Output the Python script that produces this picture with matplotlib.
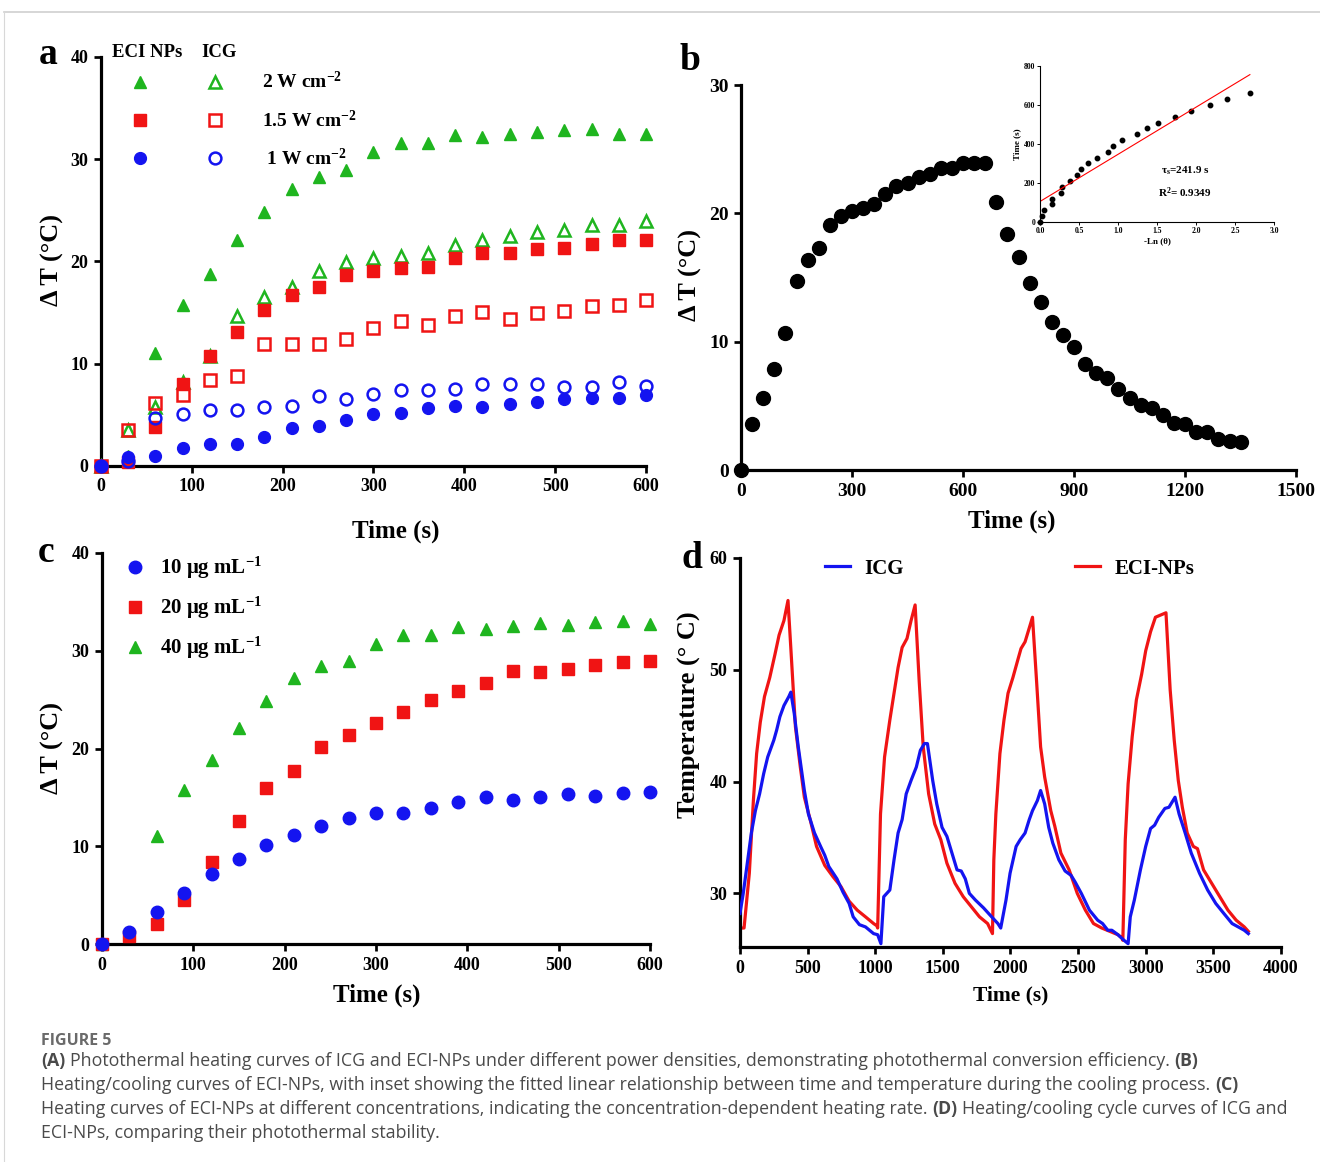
import numpy as np
import matplotlib
matplotlib.use("Agg")
import matplotlib.pyplot as plt
from matplotlib.lines import Line2D
from matplotlib.legend_handler import HandlerTuple
from matplotlib import font_manager

# ----------------------------------------
# DATA
# ----------------------------------------
time_a = [0, 30, 60, 90, 120, 150, 180, 210, 240, 270, 300, 330, 360,
          390, 420, 450, 480, 510, 540, 570, 600]

eci_2w = [0, 1.0, 11.0, 15.7, 18.8, 22.1, 24.8, 27.1, 28.3, 28.9, 30.7, 31.6, 31.6,
          32.4, 32.2, 32.5, 32.7, 32.9, 33.0, 32.5, 32.5]
icg_2w = [0, 3.5, 5.8, 8.2, 10.8, 14.7, 16.5, 17.5, 19.1, 19.9, 20.3, 20.5, 20.8,
          21.6, 22.1, 22.5, 22.9, 23.1, 23.6, 23.6, 24.0]
eci_15w = [0, 0.4, 3.8, 8.0, 10.8, 13.1, 15.3, 16.7, 17.5, 18.7, 19.1, 19.4, 19.5,
           20.3, 20.8, 20.8, 21.2, 21.3, 21.7, 22.1, 22.1]
icg_15w = [0, 3.5, 6.2, 6.9, 8.4, 8.8, 11.9, 11.9, 11.9, 12.4, 13.5, 14.2, 13.8,
           14.7, 15.1, 14.4, 15.0, 15.2, 15.6, 15.7, 16.2]
eci_1w = [0, 0.9, 1.0, 1.8, 2.1, 2.1, 2.8, 3.7, 3.9, 4.5, 5.1, 5.2, 5.7,
          5.9, 5.8, 6.1, 6.3, 6.5, 6.6, 6.6, 6.9]
icg_1w = [0, 0.5, 4.7, 5.1, 5.5, 5.5, 5.8, 5.9, 6.8, 6.5, 7.0, 7.4, 7.4,
          7.5, 8.0, 8.0, 8.0, 7.7, 7.7, 8.2, 7.8]

time_b = list(range(0, 1351, 30))
dt_b = [0, 3.6, 5.6, 7.9, 10.7, 14.7, 16.4, 17.3, 19.1, 19.8, 20.2, 20.4, 20.7,
        21.5, 22.1, 22.4, 22.8, 23.1, 23.5, 23.5, 23.9, 23.9, 23.9,
        20.9, 18.4, 16.6, 14.6, 13.1, 11.5, 10.5, 9.6, 8.3, 7.6, 7.2, 6.3,
        5.6, 5.1, 4.8, 4.3, 3.7, 3.6, 3.0, 3.0, 2.4, 2.3, 2.2]

# inset: cooling time vs -ln(theta)
neg_ln_theta = [0, 0.025, 0.047, 0.157, 0.157, 0.268, 0.285, 0.39, 0.476, 0.527,
                0.612, 0.731, 0.875, 0.94, 1.045, 1.24, 1.377, 1.517, 1.73,
                1.94, 2.18, 2.40, 2.69]
cool_time = [0, 30, 60, 90, 120, 150, 180, 210, 240, 270, 300, 330, 360, 390,
             420, 450, 480, 510, 540, 570, 600, 630, 660]
tau_s = 241.9
fit_intercept = 105
r_squared = 0.9349

time_c = time_a
conc_10 = [0, 1.2, 3.3, 5.2, 7.2, 8.7, 10.1, 11.2, 12.1, 12.9, 13.4, 13.4, 13.9,
           14.5, 15.0, 14.7, 15.0, 15.3, 15.1, 15.4, 15.6]
conc_20 = [0, 0.8, 2.0, 4.5, 8.4, 12.6, 16.0, 17.7, 20.2, 21.4, 22.6, 23.7, 25.0,
           25.9, 26.7, 27.9, 27.8, 28.1, 28.5, 28.8, 29.0]
conc_40 = [0, 1.0, 11.1, 15.8, 18.8, 22.1, 24.9, 27.2, 28.4, 29.0, 30.7, 31.6, 31.6,
           32.4, 32.2, 32.5, 32.8, 32.6, 32.9, 33.0, 32.7]

t_eci = [0, 30, 69, 99, 123, 150, 181, 220, 259, 289, 325, 355,
         380, 410, 446, 476, 521, 566, 627, 687, 747, 807, 867, 928, 988, 1012,
         1018, 1039, 1069, 1108, 1139, 1169, 1199, 1235, 1265, 1295,
         1325, 1355, 1395, 1440, 1485, 1530, 1590, 1651, 1711, 1771, 1831, 1867,
         1877, 1892, 1922, 1952, 1982, 2018, 2057, 2078, 2108, 2133, 2163,
         2193, 2223, 2253, 2298, 2328, 2373, 2434, 2494, 2554, 2614, 2675, 2735,
         2795, 2825, 2831,
         2849, 2870, 2900, 2931, 2970, 3000, 3036, 3072, 3111, 3150,
         3181, 3211, 3241, 3271, 3307, 3352, 3383, 3428, 3488, 3548, 3608, 3669,
         3729, 3759]
temp_eci = [26.9, 26.9, 31.8, 38.3, 42.5, 45.3, 47.6, 49.3, 51.4, 53.1, 54.4, 56.2,
            51.1, 44.9, 41.3, 38.6, 36.5, 34.2, 32.5, 31.5, 30.6, 29.3, 28.5, 27.9,
            27.3, 27.1,
            26.9, 37.1, 42.2, 45.5, 47.9, 50.2, 52.0, 52.8, 54.4, 55.8,
            49.0, 43.1, 38.9, 36.2, 34.8, 32.7, 30.9, 29.7, 28.8, 27.9, 27.3, 26.4,
            33.0, 37.1, 42.5, 45.5, 47.9, 49.3, 51.0, 51.9, 52.5, 53.5, 54.7,
            49.0, 43.1, 40.4, 37.4, 36.0, 33.6, 32.1, 30.0, 28.5, 27.3, 26.9, 26.6,
            26.3, 26.0, 25.8,
            34.8, 39.8, 44.0, 47.3, 49.6, 51.7, 53.4, 54.7, 54.9, 55.1,
            48.2, 43.7, 40.1, 37.7, 35.4, 34.2, 34.0, 32.1, 30.9, 29.7, 28.5, 27.6,
            27.0, 26.6]

t_icg = [0, 24, 54, 84, 114, 145, 175, 205, 250, 271, 295, 325, 361, 376,
         401, 431, 476, 506, 551, 596, 627, 657, 717, 762, 807, 837, 883, 928,
         958, 988, 1018, 1042,
         1063, 1108, 1139, 1169, 1199, 1229, 1265, 1304, 1334, 1364, 1386,
         1425, 1455, 1494, 1530, 1560, 1605, 1636, 1666, 1696, 1741, 1801, 1861,
         1907, 1928,
         1967, 1997, 2042, 2072, 2108, 2139, 2163, 2199, 2223,
         2253, 2283, 2313, 2358, 2404, 2449, 2479, 2524, 2584, 2645, 2681, 2720,
         2750, 2795, 2840, 2870,
         2886, 2916, 2961, 3000, 3036, 3066, 3096, 3142, 3172, 3217,
         3247, 3292, 3337, 3398, 3458, 3518, 3578, 3639, 3684, 3729, 3759]
temp_icg = [28.2, 30.0, 32.7, 35.4, 37.4, 38.9, 40.7, 42.2, 43.7, 44.6, 45.8, 46.8,
            47.6, 48.0,
            46.1, 43.1, 39.2, 37.1, 35.4, 34.2, 33.4, 32.4, 31.3, 30.1, 29.1, 27.9,
            27.2, 27.0, 26.7, 26.4, 26.3, 25.5,
            29.7, 30.3, 33.0, 35.4, 36.6, 38.9, 40.1, 41.3, 42.8, 43.4, 43.4,
            40.1, 38.0, 35.9, 35.1, 33.9, 32.1, 32.0, 31.3, 30.0, 29.4, 28.7, 27.9,
            27.3, 26.9,
            29.4, 31.8, 34.2, 34.8, 35.4, 36.6, 37.4, 38.3, 39.2,
            38.0, 35.9, 34.5, 33.0, 32.0, 31.6, 31.0, 30.0, 28.5, 27.6, 27.3, 26.7,
            26.7, 26.3, 25.8, 25.5,
            27.9, 29.4, 32.1, 34.2, 35.8, 36.1, 36.8, 37.6, 37.7, 38.6,
            37.1, 35.4, 33.6, 31.8, 30.3, 29.1, 28.2, 27.3, 27.0, 26.7, 26.4]

power_labels = ["2 W cm$^{-2}$", "1.5 W cm$^{-2}$", " 1 W cm$^{-2}$"]
conc_labels = ["10 \u03bcg mL$^{-1}$", "20 \u03bcg mL$^{-1}$", "40 \u03bcg mL$^{-1}$"]

GREEN = "#1fb51f"
RED = "#f01414"
BLUE = "#1414f0"

# ----------------------------------------
# STYLE
# ----------------------------------------
plt.rcParams["font.family"] = ["Liberation Serif"]
plt.rcParams["font.weight"] = "bold"
plt.rcParams["mathtext.default"] = "regular"
plt.rcParams["axes.labelweight"] = "bold"

fig = plt.figure(figsize=(13.2, 11.62), dpi=100)


def style_axes(ax, lw=2.3, tick_size=13):
    for s in ["top", "right"]:
        ax.spines[s].set_visible(False)
    for s in ["left", "bottom"]:
        ax.spines[s].set_linewidth(lw)
    ax.tick_params(direction="out", length=5, width=lw * 0.85,
                   labelsize=tick_size, pad=4)
    for lab in ax.get_xticklabels() + ax.get_yticklabels():
        lab.set_fontweight("bold")


# ----------------------------------------
# PANEL A
# ----------------------------------------
ax_a = fig.add_axes([0.0765, 0.5990, 0.4129, 0.3520])
ms = 8.5
h_icg_tri, = ax_a.plot(time_a, icg_2w, ls="none", marker="^", ms=ms + 0.5, mfc="white",
                       mec=GREEN, mew=1.8, clip_on=False, zorder=3)
h_eci_tri, = ax_a.plot(time_a, eci_2w, ls="none", marker="^", ms=ms + 0.5, color=GREEN,
                       clip_on=False, zorder=2)
h_eci_sq, = ax_a.plot(time_a, eci_15w, ls="none", marker="s", ms=ms, color=RED,
                      clip_on=False, zorder=4)
h_icg_sq, = ax_a.plot(time_a, icg_15w, ls="none", marker="s", ms=ms, mfc="none",
                      mec=RED, mew=1.8, clip_on=False, zorder=5)
h_eci_ci, = ax_a.plot(time_a, eci_1w, ls="none", marker="o", ms=ms, color=BLUE,
                      clip_on=False, zorder=6)
h_icg_ci, = ax_a.plot(time_a, icg_1w, ls="none", marker="o", ms=ms, mfc="none",
                      mec=BLUE, mew=1.8, clip_on=False, zorder=7)
ax_a.set_xlim(0, 600)
ax_a.set_ylim(0, 40)
ax_a.set_xticks(range(0, 601, 100))
ax_a.set_yticks(range(0, 41, 10))
style_axes(ax_a)
ax_a.set_xlabel("Time (s)", fontsize=18, fontweight="bold")
ax_a.xaxis.set_label_coords(0.541, -0.130)
ax_a.set_ylabel("\u0394 T (\u00b0C)", fontsize=19, fontweight="bold")
ax_a.yaxis.set_label_coords(-0.068, 0.504)

ax_a.legend([(h_eci_tri, h_icg_tri), (h_eci_sq, h_icg_sq), (h_eci_ci, h_icg_ci)],
            power_labels, handler_map={tuple: HandlerTuple(ndivide=None, pad=0)},
            loc="upper left", bbox_to_anchor=(0.003, 0.965), frameon=False,
            handlelength=7.7, handletextpad=0.5, labelspacing=0.88,
            borderpad=0, borderaxespad=0, prop={"size": 14, "weight": "bold"})
ax_a.text(0.020, 1.012, "ECI NPs", transform=ax_a.transAxes, fontsize=13.5,
          fontweight="bold", va="center", ha="left")
ax_a.text(0.185, 1.012, "ICG", transform=ax_a.transAxes, fontsize=13.5,
          fontweight="bold", va="center", ha="left")

# ----------------------------------------
# PANEL B
# ----------------------------------------
ax_b = fig.add_axes([0.5614, 0.5955, 0.4205, 0.3313])
ax_b.plot(time_b, dt_b, ls="none", marker="o", ms=10, color="black", clip_on=False)
ax_b.set_xlim(0, 1500)
ax_b.set_ylim(0, 30)
ax_b.set_xticks(range(0, 1501, 300))
ax_b.set_yticks(range(0, 31, 10))
style_axes(ax_b, tick_size=14)
ax_b.set_xlabel("Time (s)", fontsize=18, fontweight="bold")
ax_b.xaxis.set_label_coords(0.488, -0.104)
ax_b.set_ylabel("\u0394 T (\u00b0C)", fontsize=19, fontweight="bold")
ax_b.yaxis.set_label_coords(-0.070, 0.506)

# inset
ax_in = fig.add_axes([0.7879, 0.8090, 0.1773, 0.1342])
ax_in.plot(neg_ln_theta, cool_time, ls="none", marker="o", ms=3.2, color="black",
           clip_on=False)
fit_x = np.array([0, max(neg_ln_theta)])
ax_in.plot(fit_x, tau_s * fit_x + fit_intercept, color="red", lw=0.8)
ax_in.set_xlim(0, 3.0)
ax_in.set_ylim(0, 800)
ax_in.set_xticks(np.arange(0, 3.01, 0.5))
ax_in.set_xticklabels([f"{v:.1f}" for v in np.arange(0, 3.01, 0.5)])
ax_in.set_yticks(range(0, 801, 200))
style_axes(ax_in, lw=0.8, tick_size=5.5)
ax_in.tick_params(length=2, pad=1.5)
ax_in.set_xlabel("-Ln (\u03b8)", fontsize=6.5, fontweight="bold", labelpad=2)
ax_in.set_ylabel("Time (s)", fontsize=6.5, fontweight="bold", labelpad=2)
ax_in.text(1.86, 262, "\u03c4$_s$=241.9 s", fontsize=8, fontweight="bold",
           ha="center", va="center")
ax_in.text(1.86, 149, f"R$^2$= {r_squared}", fontsize=8, fontweight="bold",
           ha="center", va="center")

# ----------------------------------------
# PANEL C
# ----------------------------------------
ax_c = fig.add_axes([0.0773, 0.1876, 0.4152, 0.3365])
h10, = ax_c.plot(time_c, conc_10, ls="none", marker="o", ms=9, color=BLUE,
                 clip_on=False, zorder=4)
h20, = ax_c.plot(time_c, conc_20, ls="none", marker="s", ms=8.5, color=RED,
                 clip_on=False, zorder=3)
h40, = ax_c.plot(time_c, conc_40, ls="none", marker="^", ms=9, color=GREEN,
                 clip_on=False, zorder=2)
ax_c.set_xlim(0, 600)
ax_c.set_ylim(0, 40)
ax_c.set_xticks(range(0, 601, 100))
ax_c.set_yticks(range(0, 41, 10))
style_axes(ax_c)
ax_c.set_xlabel("Time (s)", fontsize=18, fontweight="bold")
ax_c.xaxis.set_label_coords(0.502, -0.100)
ax_c.set_ylabel("\u0394 T (\u00b0C)", fontsize=19, fontweight="bold")
ax_c.yaxis.set_label_coords(-0.069, 0.501)
ax_c.legend([h10, h20, h40], conc_labels, loc="upper left",
            bbox_to_anchor=(0.041, 0.995), frameon=False, handlelength=1.0,
            handletextpad=0.7, labelspacing=0.67, borderpad=0, borderaxespad=0,
            prop={"size": 15, "weight": "bold"})

# ----------------------------------------
# PANEL D
# ----------------------------------------
ax_d = fig.add_axes([0.5606, 0.1850, 0.4098, 0.3348])
l_icg, = ax_d.plot(t_icg, temp_icg, color=BLUE, lw=2.3, zorder=3)
l_eci, = ax_d.plot(t_eci, temp_eci, color=RED, lw=2.3, zorder=2)
ax_d.set_xlim(0, 4000)
ax_d.set_ylim(25.2, 60)
ax_d.set_xticks(range(0, 4001, 500))
ax_d.set_yticks(range(30, 61, 10))
style_axes(ax_d)
ax_d.set_xlabel("Time (s)", fontsize=15.5, fontweight="bold")
ax_d.xaxis.set_label_coords(0.501, -0.100)
ax_d.set_ylabel("Temperature (\u00b0 C)", fontsize=19, fontweight="bold")
ax_d.yaxis.set_label_coords(-0.072, 0.596)
ax_d.legend([l_icg, l_eci], ["ICG", "ECI-NPs"], loc="upper left",
            bbox_to_anchor=(0.157, 0.998), ncol=2, frameon=False,
            handlelength=1.2, handletextpad=0.7, columnspacing=8.2,
            borderpad=0, borderaxespad=0, prop={"size": 15, "weight": "bold"})

# ----------------------------------------
# PANEL LETTERS
# ----------------------------------------
for letter, (px, py) in zip("abcd", [(48, 55), (690, 60), (46, 553), (692, 558)]):
    fig.text(px / 1320, 1 - py / 1162, letter, fontsize=27, fontweight="bold",
             ha="center", va="center")

# frame line of the page
fig.add_artist(Line2D([4 / 1320, 1], [1 - 12 / 1162] * 2, color="#d0d0d0", lw=1.2))
fig.add_artist(Line2D([4 / 1320] * 2, [0, 1 - 12 / 1162], color="#d8d8d8", lw=0.8))

# ----------------------------------------
# CAPTION
# ----------------------------------------
names = {f.name for f in font_manager.fontManager.ttflist}
CAP_FONT = "Liberation Sans Narrow" if "Liberation Sans Narrow" in names else "Open Sans"
CAP_COLOR = "#4a4a4a"

caption_lines = [
    [("(A)", True),
     ("Photothermal heating curves of ICG and ECI-NPs under different power densities, "
      "demonstrating photothermal conversion efficiency.", False),
     ("(B)", True)],
    [("Heating/cooling curves of ECI-NPs, with inset showing the fitted linear relationship "
      "between time and temperature during the cooling process.", False),
     ("(C)", True)],
    [("Heating curves of ECI-NPs at different concentrations, indicating the "
      "concentration-dependent heating rate.", False),
     ("(D)", True),
     ("Heating/cooling cycle curves of ICG and", False)],
    [("ECI-NPs, comparing their photothermal stability.", False)],
]
line_ends = [1241, 1305, 1300]

renderer = fig.canvas.get_renderer()


def text_width(s, size, bold):
    t = fig.text(0, 0, s, fontsize=size, family=CAP_FONT,
                 fontweight="bold" if bold else "normal")
    w = t.get_window_extent(renderer).width
    t.remove()
    return w


def line_width(segs, size):
    gap = text_width("a a", size, False) - text_width("aa", size, False)
    return sum(text_width(s, size, b) for s, b in segs) + gap * (len(segs) - 1)


base = 12.0
cap_size = 0.985 * min(base * (end - 41) / line_width(segs, base)
                       for segs, end in zip(caption_lines, line_ends))

fig.text(41 / 1320, 1 - 1041 / 1162, "FIGURE 5", fontsize=cap_size * 0.9,
         family=CAP_FONT, color="#6a6a6a", va="center")
gap_px = text_width("a a", cap_size, False) - text_width("aa", cap_size, False)
for i, segs in enumerate(caption_lines):
    x = 41.0
    y = 1 - (1061 + 24 * i) / 1162
    for s, b in segs:
        fig.text(x / 1320, y, s, fontsize=cap_size, family=CAP_FONT, color=CAP_COLOR,
                 fontweight="bold" if b else "normal", va="center")
        x += text_width(s, cap_size, b) + gap_px

fig.savefig("out.png", dpi=100, facecolor="white")
